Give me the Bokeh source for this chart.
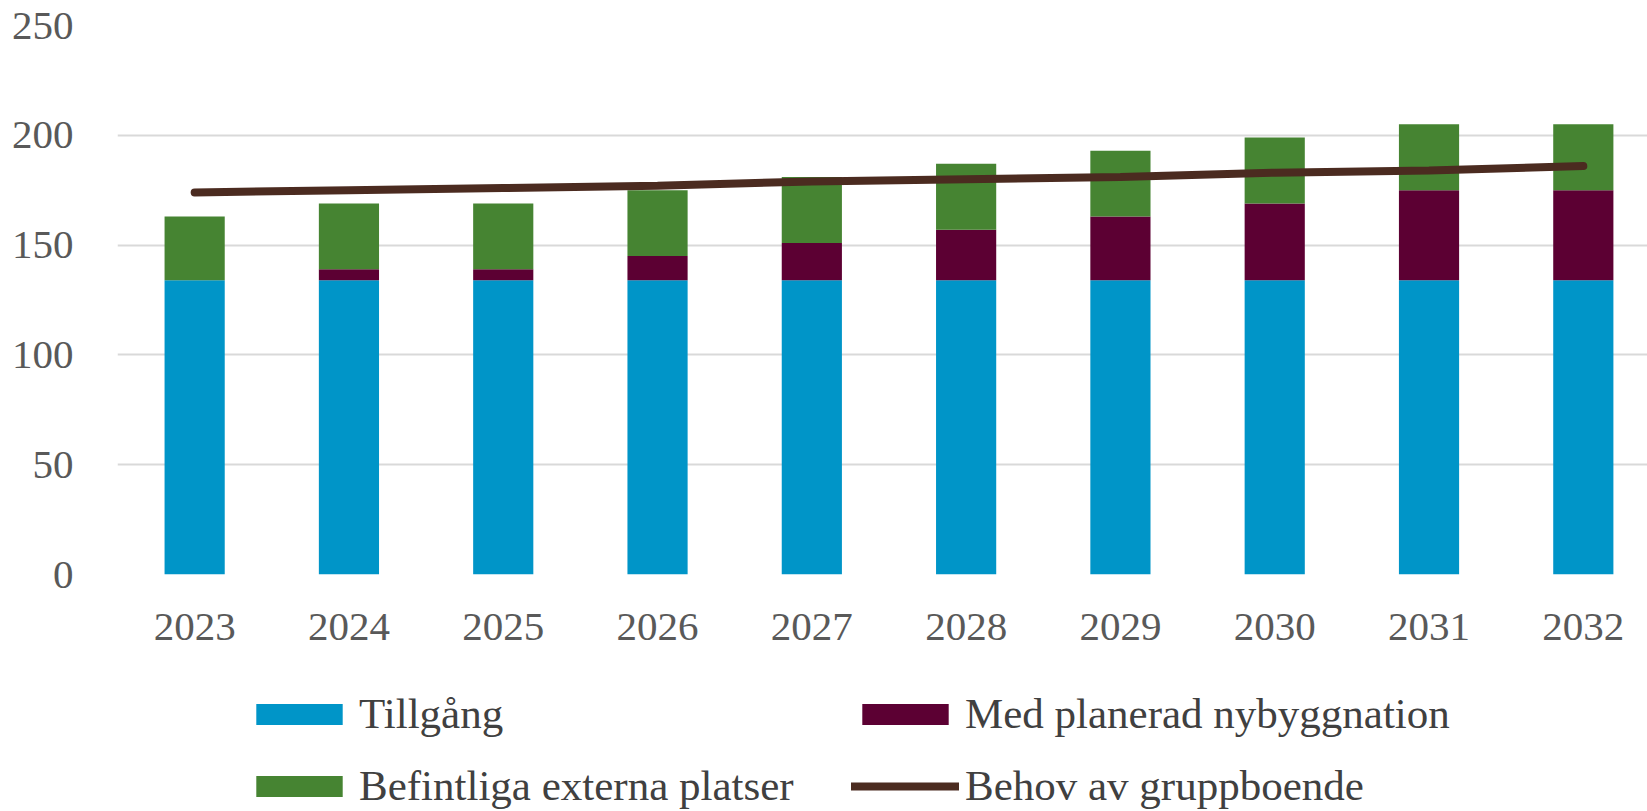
from bokeh.plotting import figure
from bokeh.layouts import column
from bokeh.models import Range1d, Legend, LegendItem, FixedTicker, ColumnDataSource
from bokeh.embed import file_html
from bokeh.resources import INLINE

years = ["2023", "2024", "2025", "2026", "2027", "2028", "2029", "2030", "2031", "2032"]
tillgang = [134, 134, 134, 134, 134, 134, 134, 134, 134, 134]
planerad = [0, 5, 5, 11, 17, 23, 29, 35, 41, 41]
befintliga = [29, 30, 30, 30, 30, 30, 30, 30, 30, 30]
behov = [174, 175, 176, 177, 179, 180, 181, 183, 184, 186]
y_ticks = [0, 50, 100, 150, 200, 250]

names = ["Tillgång", "Med planerad nybyggnation", "Befintliga externa platser", "Behov av gruppboende"]
colors = ["#0095c8", "#5c0033", "#468432", "#4b2b20"]

xs = list(range(len(years)))
src = ColumnDataSource(dict(x=xs, tillgang=tillgang, planerad=planerad,
                            befintliga=befintliga, behov=behov))

FONT = "Liberation Serif"

p = figure(width=1647, height=664, output_backend="svg", toolbar_location=None,
           x_range=Range1d(-0.5, 9.416), y_range=Range1d(0, 250),
           min_border_left=117, min_border_right=0, min_border_top=25, min_border_bottom=90)

bars = p.vbar_stack(["tillgang", "planerad", "befintliga"], x="x", width=0.39,
                    color=colors[:3], line_width=0, source=src)
ln = p.line("x", "behov", source=src, line_color=colors[3], line_width=8, line_cap="round")

p.outline_line_color = None
p.xgrid.grid_line_color = None
p.ygrid.grid_line_color = "#d9d9d9"
p.ygrid.grid_line_width = 2
p.yaxis.ticker = FixedTicker(ticks=y_ticks)
p.xaxis.ticker = FixedTicker(ticks=xs)
p.xaxis.major_label_overrides = {i: y for i, y in enumerate(years)}

for ax in (p.xaxis[0], p.yaxis[0]):
    ax.axis_line_color = None
    ax.major_tick_line_color = None
    ax.minor_tick_line_color = None
    ax.major_label_text_font = FONT
    ax.major_label_text_font_size = "41px"
    ax.major_label_text_color = "#595959"
p.yaxis.major_label_standoff = 38
p.xaxis.major_label_standoff = 33

# legend strip below the chart (its swatch renderers sit outside the visible range)
lf = figure(width=1647, height=147, output_backend="svg", toolbar_location=None,
            x_range=Range1d(0, 1), y_range=Range1d(0, 1),
            min_border_left=0, min_border_right=0, min_border_top=0, min_border_bottom=0)
lf.axis.visible = False
lf.grid.visible = False
lf.outline_line_color = None
hidden = ColumnDataSource(dict(x=[-10, -9], y=[-10, -10]))
lr = [lf.vbar(x="x", top="y", width=0.1, color=c, line_width=0, source=hidden) for c in colors[:3]]
lr.append(lf.line("x", "y", line_color=colors[3], line_width=8, line_cap="round", source=hidden))


def make_legend(its, vy):
    return Legend(items=its, orientation="horizontal", location=(128, vy),
                  label_text_font=FONT, label_text_font_size="43px", label_text_color="#404040",
                  glyph_width=108, glyph_height=26, label_standoff=6, spacing=0, label_width=492,
                  padding=0, margin=0, border_line_color=None, background_fill_alpha=0)


leg1 = make_legend([LegendItem(label=names[0], renderers=[lr[0]]),
                    LegendItem(label=names[1], renderers=[lr[1]])], 73)
leg2 = make_legend([LegendItem(label=names[2], renderers=[lr[2]]),
                    LegendItem(label=names[3], renderers=[lr[3]])], 1)
lf.add_layout(leg1, "center")
lf.add_layout(leg2, "center")

open("out.html", "w").write(file_html(column(p, lf, spacing=0), INLINE))
